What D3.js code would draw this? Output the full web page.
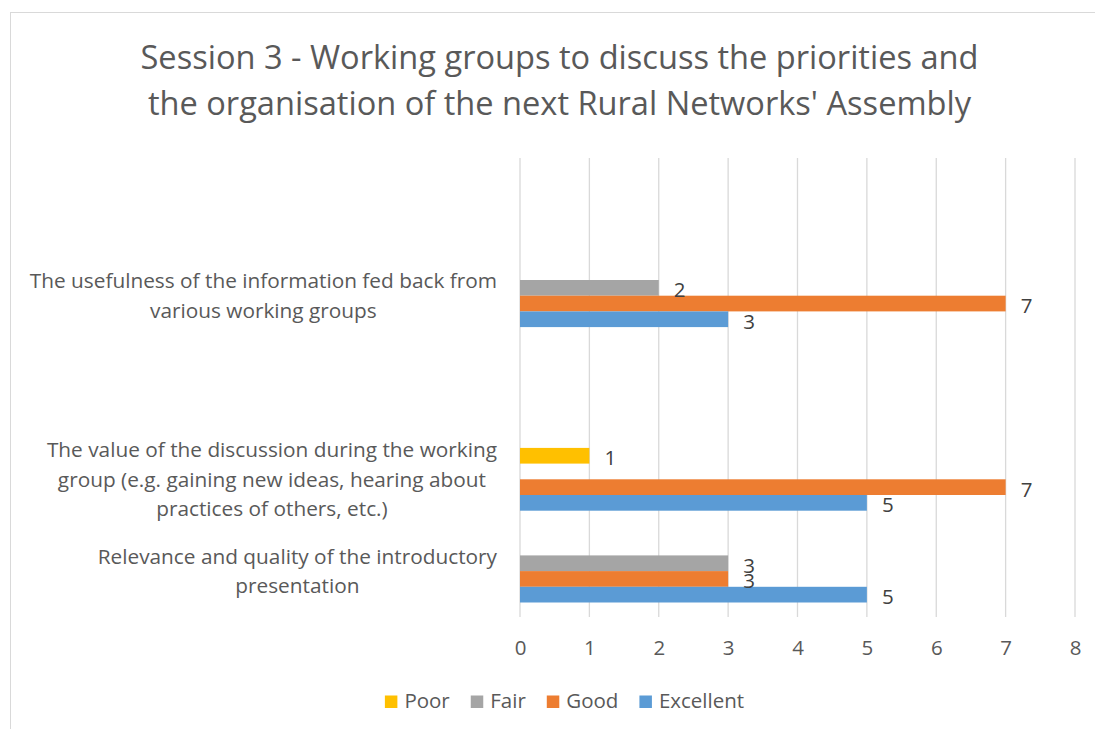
<!DOCTYPE html>
<html>
<head>
<meta charset="utf-8">
<script src="https://cdn.jsdelivr.net/npm/d3@7"></script>
<style>
  html, body { margin: 0; padding: 0; background: #fff; }
  svg { display: block; }
  text { font-family: "Open Sans", sans-serif; }
</style>
</head>
<body>
<svg id="chart" width="1095" height="729"></svg>
<script>
// ---- data (bottom category first) ----
const titleLines = ["Session 3 - Working groups to discuss the priorities and",
                    "the organisation of the next Rural Networks' Assembly"];
const categories = [
  "Relevance and quality of the introductory\npresentation",
  "The value of the discussion during the working\ngroup (e.g. gaining new ideas, hearing about\npractices of others, etc.)",
  "",
  "The usefulness of the information fed back from\nvarious working groups",
  ""
];
const seriesNames = ["Poor", "Fair", "Good", "Excellent"];
const poor      = [null, 1, null, null, null];
const fair      = [3, null, null, 2, null];
const good      = [3, 7, null, 7, null];
const excellent = [5, 5, null, 3, null];
const xTicks = [0, 1, 2, 3, 4, 5, 6, 7, 8];
const seriesColors = ["#FFC000", "#A5A5A5", "#ED7D31", "#5B9BD5"];

const seriesValues = [poor, fair, good, excellent];

const svg = d3.select("#chart");
const W = 1095, H = 729;

// chart border
svg.append("rect")
  .attr("x", 10.5).attr("y", 12.5)
  .attr("width", W + 20).attr("height", H + 20)
  .attr("fill", "#fff").attr("stroke", "#d9d9d9").attr("stroke-width", 1);

// title
svg.append("g").selectAll("text").data(titleLines).join("text")
  .attr("x", 559.5)
  .attr("y", (d, i) => 69 + i * 45.5)
  .attr("text-anchor", "middle")
  .attr("font-size", 32.6)
  .attr("fill", "#595959")
  .text(d => d);

const plot = { left: 520, right: 1075, top: 158, bottom: 617 };

const x = d3.scaleLinear().domain([0, 8]).range([plot.left, plot.right]);
const idx = categories.map((c, i) => i);
const y = d3.scaleBand()
  .domain(idx.slice().reverse())
  .range([plot.top, plot.bottom])
  .paddingInner(0.316).paddingOuter(0.158);
const ys = d3.scaleBand().domain(seriesNames).range([0, y.bandwidth()]);

// gridlines
svg.append("g").selectAll("line").data(xTicks).join("line")
  .attr("x1", d => x(d)).attr("x2", d => x(d))
  .attr("y1", plot.top).attr("y2", plot.bottom)
  .attr("stroke", "#d9d9d9").attr("stroke-width", 1.3);

// x axis labels
const xAxis = d3.axisBottom(x).tickValues(xTicks).tickSize(0).tickPadding(0);
const xg = svg.append("g").attr("transform", `translate(0,${plot.bottom})`).call(xAxis);
xg.select(".domain").remove();
xg.selectAll("text")
  .attr("font-size", 20.5).attr("fill", "#595959")
  .attr("font-family", "Open Sans, sans-serif")
  .attr("dy", null).attr("y", 38);

// bars
const rows = [];
seriesNames.forEach((s, si) => {
  seriesValues[si].forEach((v, ci) => {
    if (v !== null) rows.push({ s, si, ci, v });
  });
});

const bars = svg.append("g");
bars.selectAll("rect").data(rows).join("rect")
  .attr("x", x(0))
  .attr("y", d => y(d.ci) + ys(d.s))
  .attr("width", d => x(d.v) - x(0))
  .attr("height", ys.bandwidth())
  .attr("fill", d => seriesColors[d.si]);

// data labels
svg.append("g").selectAll("text").data(rows).join("text")
  .attr("x", d => x(d.v) + 15)
  .attr("y", d => y(d.ci) + ys(d.s) + ys.bandwidth() / 2 + 9.5)
  .attr("font-size", 20.5).attr("fill", "#404040")
  .text(d => d.v);

// category labels
const catG = svg.append("g");
const lineH = 29.5;
categories.forEach((c, ci) => {
  if (!c) return;
  const lines = c.split("\n");
  const cy = y(ci) + y.bandwidth() / 2;
  const g = catG.append("g");
  const texts = g.selectAll("text").data(lines).join("text")
    .attr("font-size", 20.8).attr("fill", "#595959")
    .attr("text-anchor", "middle")
    .attr("y", (d, i) => cy + (i - (lines.length - 1) / 2) * lineH + 7.5)
    .text(d => d);
  let maxW = 0;
  texts.each(function () { maxW = Math.max(maxW, this.getComputedTextLength()); });
  texts.attr("x", 497 - maxW / 2);
});

// legend
const legend = svg.append("g");
const items = legend.selectAll("g").data(seriesNames).join("g");
items.append("rect")
  .attr("width", 12.5).attr("height", 12.5)
  .attr("y", 695.5)
  .attr("fill", (d, i) => seriesColors[i]);
items.append("text")
  .attr("y", 708)
  .attr("font-size", 20.5).attr("fill", "#595959")
  .text(d => d);
let widths = [];
items.select("text").each(function () { widths.push(this.getComputedTextLength()); });
const sq = 12.5, gapIn = 7, gapOut = 21;
const total = d3.sum(widths) + seriesNames.length * (sq + gapIn) + (seriesNames.length - 1) * gapOut;
let cx = 564.5 - total / 2;
items.each(function (d, i) {
  d3.select(this).select("rect").attr("x", cx);
  d3.select(this).select("text").attr("x", cx + sq + gapIn);
  cx += sq + gapIn + widths[i] + gapOut;
});
</script>
</body>
</html>
